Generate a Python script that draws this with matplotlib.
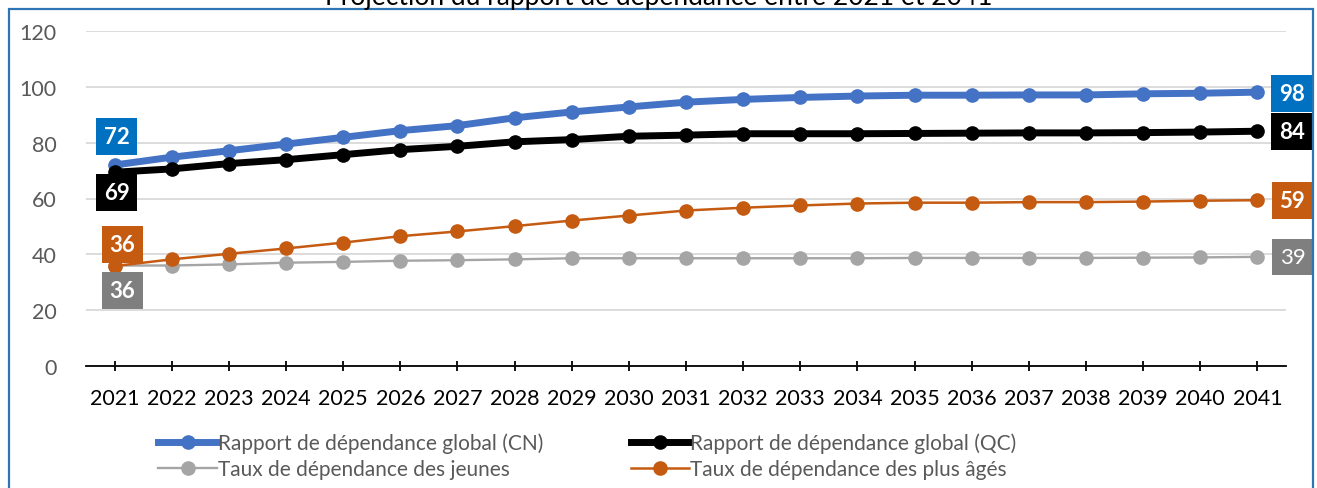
import matplotlib
matplotlib.use("Agg")
import matplotlib.pyplot as plt
from matplotlib.patches import Rectangle

plt.rcParams["font.family"] = ["Lato", "DejaVu Sans"]

years = list(range(2021, 2042))
cn = [72.0, 74.8, 77.1, 79.5, 81.9, 84.3, 86.1, 88.9, 91.0, 92.8, 94.5,
      95.5, 96.2, 96.7, 97.0, 97.0, 97.1, 97.1, 97.5, 97.7, 98.1]
qc = [69.4, 70.6, 72.5, 73.9, 75.7, 77.5, 78.7, 80.3, 81.1, 82.3, 82.7,
      83.2, 83.2, 83.2, 83.3, 83.4, 83.5, 83.5, 83.6, 83.8, 84.1]
jeunes = [36.0, 36.0, 36.4, 37.0, 37.3, 37.7, 37.9, 38.2, 38.6, 38.6, 38.6,
          38.6, 38.6, 38.6, 38.7, 38.7, 38.7, 38.7, 38.8, 38.9, 39.1]
ages = [35.8, 38.2, 40.2, 42.1, 44.2, 46.5, 48.2, 50.1, 52.1, 53.9, 55.7,
        56.7, 57.5, 58.2, 58.5, 58.5, 58.7, 58.7, 58.9, 59.2, 59.4]

names = ["Rapport de dépendance global (CN)",
         "Taux de dépendance des jeunes",
         "Rapport de dépendance global (QC)",
         "Taux de dépendance des plus âgés"]
title = "Projection du rapport de dépendance entre 2021 et 2041"

c_cn = "#4472C4"
c_qc = "#000000"
c_jeunes = "#A5A5A5"
c_ages = "#C55A11"

W, H = 1317, 489
fig = plt.figure(figsize=(W / 100, H / 100), dpi=100)
ax = fig.add_axes([86 / W, 1 - 367 / H, 1200 / W, 335 / H])

l_cn, = ax.plot(years, cn, color=c_cn, lw=5, marker="o", ms=9.5, zorder=4)
l_qc, = ax.plot(years, qc, color=c_qc, lw=5, marker="o", ms=9.5, zorder=4)
l_j, = ax.plot(years, jeunes, color=c_jeunes, lw=1.7, marker="o", ms=9.5, zorder=3)
l_a, = ax.plot(years, ages, color=c_ages, lw=1.8, marker="o", ms=9.5, zorder=3)

ax.set_xlim(2020.5, 2041.5)
ax.set_ylim(0, 120)
ax.set_yticks(range(0, 121, 20))
ax.set_xticks(years)
ax.set_xticklabels([str(y) for y in years])
ax.yaxis.grid(True, color="#D9D9D9", lw=1.3)
ax.set_axisbelow(True)
for s in ["top", "right", "left"]:
    ax.spines[s].set_visible(False)
ax.spines["bottom"].set_color("black")
ax.spines["bottom"].set_linewidth(1.3)
ax.tick_params(axis="y", length=0, pad=21, labelsize=15.5, labelcolor="#595959")
ax.tick_params(axis="x", direction="inout", length=7, width=1.3,
               pad=12, labelsize=15.5, labelcolor="black")


def lab(x, y, txt, color, dx, dy, bold=True):
    ax.annotate(txt, (x, y), xytext=(dx, dy), textcoords="offset pixels",
                ha="center", va="center", color="white", fontsize=16,
                fontweight="bold" if bold else "normal", zorder=6,
                bbox=dict(boxstyle="square,pad=0.36", fc=color, ec="none"))


lab(years[0], cn[0], "%d" % round(cn[0]), "#0070C0", 2, 29)
lab(years[0], qc[0], "%d" % round(qc[0]), "#000000", 2, -20)
lab(years[0], ages[0], "%d" % round(ages[0]), c_ages, 8, 22)
lab(years[0], jeunes[0], "%d" % round(jeunes[0]), "#7F7F7F", 8, -25)
lab(years[-1], cn[-1], "%d" % round(cn[-1]), "#0070C0", 35, -1)
lab(years[-1], qc[-1], "%d" % round(qc[-1]), "#000000", 35, 0)
lab(years[-1], ages[-1], "%d" % round(ages[-1]), c_ages, 35, 0)
lab(years[-1], jeunes[-1], "%d" % round(jeunes[-1]), "#7F7F7F", 35, 0, bold=False)

leg = fig.legend([l_cn, l_j, l_qc, l_a], names, ncol=2, loc="upper left",
                 bbox_to_anchor=(150 / W, 1 - 425 / H), frameon=False,
                 fontsize=15, handlelength=2.8, handletextpad=0.05,
                 columnspacing=4.2, labelspacing=0.3, borderaxespad=0)
for t in leg.get_texts():
    t.set_color("#595959")

fig.text(0.5, 1 - 5 / H, title, ha="center", va="baseline", fontsize=19,
         color="black")

fig.patches.append(Rectangle((9 / W, -0.1), 1304 / W, 1.1 - 10 / H,
                             transform=fig.transFigure, fill=False,
                             ec="#2E75B6", lw=1.6))

fig.savefig("out.png", dpi=100, facecolor="white")
